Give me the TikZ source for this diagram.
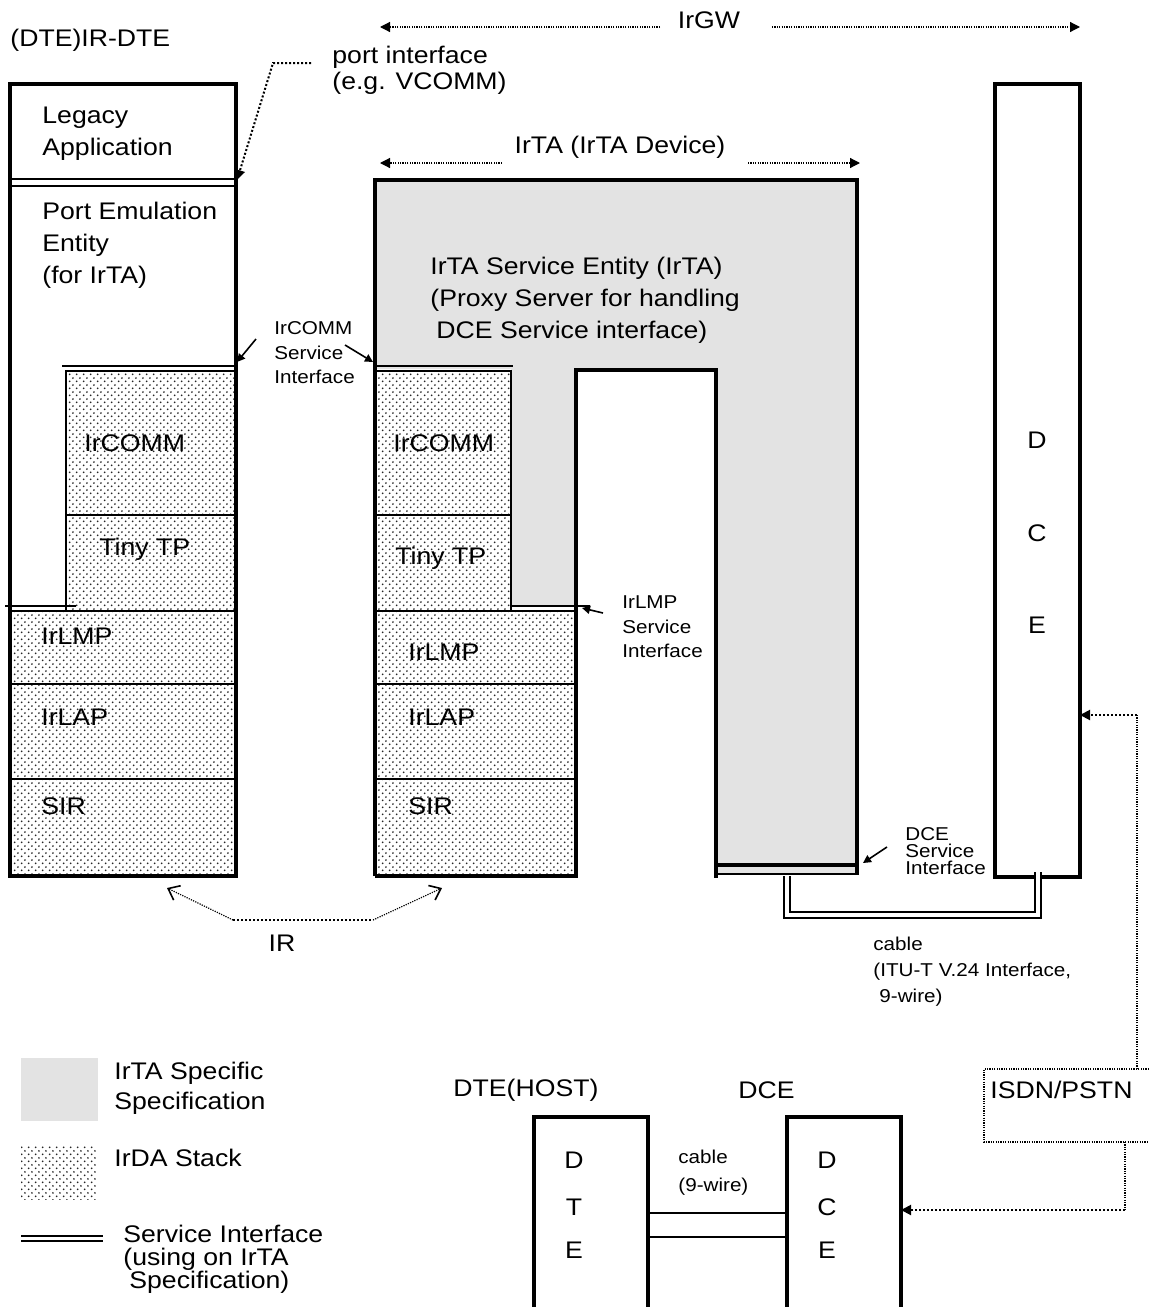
\documentclass[tikz,border=0pt]{standalone}
\usepackage{fontspec}
\setmainfont{Liberation Sans}[FakeStretch=1.11]
\usetikzlibrary{patterns,arrows.meta}

\pgfdeclarepatternformonly{irdadots}{\pgfqpoint{0pt}{0pt}}{\pgfqpoint{3.4pt}{3.4pt}}{\pgfqpoint{3.4pt}{3.4pt}}{%
  \pgfpathcircle{\pgfqpoint{0.85pt}{0.85pt}}{0.5pt}%
  \pgfpathcircle{\pgfqpoint{2.55pt}{2.55pt}}{0.5pt}%
  \pgfusepath{fill}}

\definecolor{irtagray}{gray}{0.89}

\tikzset{
  thickline/.style={line width=2pt},
  midline/.style={line width=1.4pt},
  thinline/.style={line width=1pt},
  stack/.style={pattern=irdadots, pattern color=black!85},
  bigtext/.style={font=\fontsize{12}{16}\selectfont, align=left, inner sep=0pt, anchor=west},
  smalltext/.style={font=\fontsize{9.3}{12.25}\selectfont, align=left, inner sep=0pt, anchor=west},
  finedots/.style={line width=0.6pt, dash pattern=on 0.6pt off 0.6pt},
  heavydots/.style={line width=1pt, dash pattern=on 1pt off 1pt},
  pointer/.style={line width=0.8pt, -{Triangle[length=4pt,width=4pt]}},
  cableline/.style={draw=black, line width=0.7pt, double, double distance=2.2pt}
}

\begin{document}
\begin{tikzpicture}[x=0.5pt, y=-0.5pt, > = {Triangle[length=5pt,width=5pt]}]

	\useasboundingbox (0,0) rectangle (1149,1307);

	% IrTA specific area

	\fill[irtagray] (375,180) -- (857,180) -- (857,874) -- (716,874) -- (716,370)
		-- (576,370) -- (576,606) -- (511,606) -- (511,369) -- (375,369) -- cycle;

	% IrDA stacks

	\path[stack] (66,369) rectangle (236,611);
	\path[stack] (10,611) rectangle (236,876);
	\path[stack] (375,369) rectangle (511,611);
	\path[stack] (375,611) rectangle (576,876);

	% IR-DTE

	\draw[thickline] (10,84) rectangle (236,876);
	\draw[midline] (10,179) -- (236,179);
	\draw[midline] (10,186) -- (236,186);
	\draw[midline] (62,366) -- (236,366);
	\draw[thinline] (66,611) -- (66,371) -- (236,371);
	\draw[thinline] (66,515) -- (236,515);
	\draw[midline] (5,606) -- (76,606);
	\draw[thinline] (10,611) -- (236,611);
	\draw[thinline] (10,684) -- (236,684);
	\draw[thinline] (10,779) -- (236,779);

	% IrTA device

	\draw[thickline] (375,876) -- (375,180) -- (857,180) -- (857,875);
	\draw[thickline] (375,876) -- (576,876) -- (576,370) -- (716,370) -- (716,878);
	\draw[midline] (375,366) -- (513,366);
	\draw[thinline] (375,371) -- (511,371) -- (511,611);
	\draw[thinline] (375,515) -- (511,515);
	\draw[midline] (510,606) -- (590,606);
	\draw[thinline] (375,611) -- (576,611);
	\draw[thinline] (375,684) -- (576,684);
	\draw[thinline] (375,779) -- (576,779);
	\draw[thickline] (716,865) -- (857,865);
	\draw[midline] (716,874) -- (857,874);

	% DCE of the gateway

	\draw[thickline] (995,84) rectangle (1080,877);

	% Texts

	\node[bigtext] (dtelabel) at (10,40) {(DTE)IR-DTE};
	\node[bigtext, font=\fontsize{12}{13}\selectfont] (portif) at (332,70) {port interface\\(e.g. VCOMM)};
	\node[bigtext] (legacy) at (42,134) {Legacy\\Application};
	\node[bigtext] (portemu) at (42,245) {Port Emulation\\Entity\\(for IrTA)};
	\node[bigtext] (irtaent) at (430,300) {IrTA Service Entity (IrTA)\\(Proxy Server for handling\\\hspace*{3pt}DCE Service interface)};
	\node[bigtext, anchor=center] (irgw) at (709,20) {IrGW};
	\node[bigtext, anchor=center] (irtadev) at (620,147) {IrTA (IrTA Device)};

	\node[smalltext] (commsi) at (274,353) {IrCOMM\\Service\\Interface};
	\node[smalltext] (lmpsi) at (622,627) {IrLMP\\Service\\Interface};
	\node[smalltext, font=\fontsize{9.3}{8.3}\selectfont] (dcesi) at (905,851) {DCE\\Service\\Interface};
	\node[smalltext, font=\fontsize{9.3}{13}\selectfont] (cablelbl) at (873,972) {cable\\(ITU-T V.24 Interface,\\\hspace*{3pt}9-wire)};
	\node[bigtext, anchor=center] (irlbl) at (282,943) {IR};

	\node[bigtext] (commL) at (84,443) {IrCOMM};
	\node[bigtext] (tinyL) at (99,549) {Tiny TP};
	\node[bigtext] (lmpL) at (41,636) {IrLMP};
	\node[bigtext] (lapL) at (41,717) {IrLAP};
	\node[bigtext] (sirL) at (41,806) {SIR};

	\node[bigtext] (commR) at (393,443) {IrCOMM};
	\node[bigtext] (tinyR) at (395,558) {Tiny TP};
	\node[bigtext] (lmpR) at (408,652) {IrLMP};
	\node[bigtext] (lapR) at (408,717) {IrLAP};
	\node[bigtext] (sirR) at (408,806) {SIR};

	\node[bigtext, anchor=center] (dceD) at (1037,440) {D};
	\node[bigtext, anchor=center] (dceC) at (1037,533) {C};
	\node[bigtext, anchor=center] (dceE) at (1037,625) {E};

	% Extent arrows

	\coordinate (gwL) at (380,27);
	\coordinate (gwR) at (1080,27);
	\coordinate (taL) at (380,163);
	\coordinate (taR) at (860,163);

	\begin{scope}[->, finedots]
		\draw (660,27) -- (gwL);
		\draw (772,27) -- (gwR);
		\draw (502,163) -- (taL);
		\draw (748,163) -- (taR);
	\end{scope}

	% Interface pointers

	\coordinate (pi1) at (311,63);
	\coordinate (pi2) at (273,63);
	\coordinate (legacyif) at (237,180);
	\draw[heavydots, ->] (pi1) -- (pi2) -- (legacyif);

	\coordinate (commifL) at (237,362);
	\coordinate (commifR) at (373,362);
	\coordinate (lmpif) at (582,608);
	\coordinate (dceif) at (863,863);
	\draw[pointer] (256,339) -- (commifL);
	\draw[pointer] (345,345) -- (commifR);
	\draw[pointer] (603,613) -- (lmpif);
	\draw[pointer] (887,847) -- (dceif);

	% IR link

	\coordinate (irA) at (233,920);
	\coordinate (irB) at (373,920);
	\coordinate (dteir) at (167,888);
	\coordinate (tair) at (442,888);
	\draw[heavydots] (irA) -- (irB);
	\draw[finedots, -{Straight Barb[length=5pt,width=8pt,line width=0.8pt]}] (irA) -- (dteir);
	\draw[finedots, -{Straight Barb[length=5pt,width=8pt,line width=0.8pt]}] (irB) -- (tair);

	% Cable between IrTA and DCE

	\coordinate (taout) at (787,876);
	\coordinate (dcein) at (1038,872);
	\draw[cableline] (taout) -- (787,915) -| (dcein);

	% Legend

	\fill[irtagray] (21,1058) rectangle (98,1121);
	\path[stack] (21,1145) rectangle (96,1199);
	\draw[thinline] (21,1236) -- (103,1236);
	\draw[thinline] (21,1241) -- (103,1241);
	\node[bigtext, font=\fontsize{12}{15}\selectfont] (leggray) at (114,1088) {IrTA Specific\\Specification};
	\node[bigtext] (legdots) at (114,1158) {IrDA Stack};
	\node[bigtext, font=\fontsize{12}{11.5}\selectfont] (legline) at (123,1259) {Service Interface\\(using on IrTA\\\hspace*{3pt}Specification)};

	% DTE(HOST) and DCE

	\node[bigtext] (hostlbl) at (453,1090) {DTE(HOST)};
	\node[bigtext] (dcelbl) at (738,1090) {DCE};
	\node[bigtext] (isdnlbl) at (990,1090) {ISDN/PSTN};

	\draw[thickline] (534,1310) -- (534,1117) -- (648,1117) -- (648,1310);
	\draw[thickline] (787,1310) -- (787,1117) -- (901,1117) -- (901,1310);
	\draw[midline] (648,1213) -- (787,1213);
	\draw[midline] (648,1237) -- (787,1237);
	\node[smalltext, font=\fontsize{9.3}{14}\selectfont] (cable9) at (678,1173) {cable\\(9-wire)};

	\node[bigtext, anchor=center] (hostD) at (574,1160) {D};
	\node[bigtext, anchor=center] (hostT) at (574,1207) {T};
	\node[bigtext, anchor=center] (hostE) at (574,1250) {E};
	\node[bigtext, anchor=center] (modD) at (827,1160) {D};
	\node[bigtext, anchor=center] (modC) at (827,1207) {C};
	\node[bigtext, anchor=center] (modE) at (827,1250) {E};

	% Network

	\coordinate (dceside) at (1080,715);
	\coordinate (modside) at (901,1210);
	\draw[finedots] (1149,1069) -- (984,1069) -- (984,1142) -- (1149,1142);
	\draw[finedots] (1137,1069) -- (1137,715);
	\draw[heavydots, ->] (1137,715) -- (dceside);
	\draw[finedots] (1125,1142) -- (1125,1210);
	\draw[heavydots, ->] (1125,1210) -- (modside);

\end{tikzpicture}
\end{document}
